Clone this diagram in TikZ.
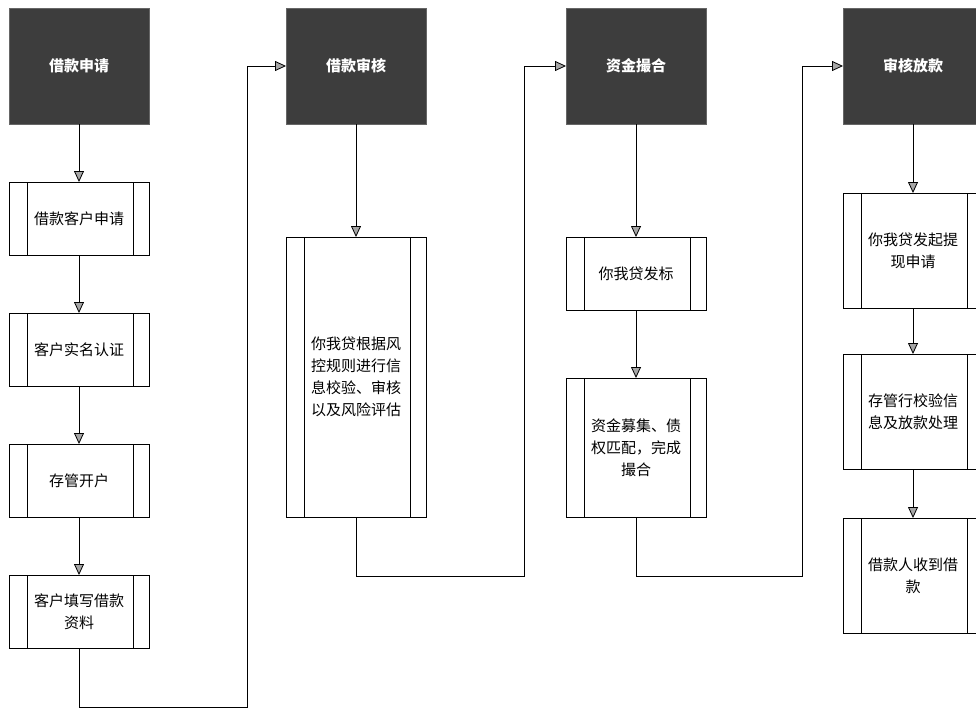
\documentclass[tikz,border=0pt]{standalone}
\usepackage{fontspec}
\setmainfont{Noto Sans CJK SC}
\usetikzlibrary{positioning, arrows.meta}

\tikzset{
  head/.style={fill=black!76, draw=black!60, minimum width=140pt, minimum height=116pt,
    text=white, font={\fontsize{15pt}{18pt}\selectfont\bfseries}, outer sep=0pt},
  procbox/.style={draw, line width=0.9pt, fill=white, minimum width=140pt, minimum height=#1,
    align=center, outer sep=0pt, font={\fontsize{15pt}{22pt}\selectfont},
    path picture={
      \draw[line width=0.9pt] ([xshift=18pt]path picture bounding box.north west) -- ([xshift=18pt]path picture bounding box.south west);
      \draw[line width=0.9pt] ([xshift=-16pt]path picture bounding box.north east) -- ([xshift=-16pt]path picture bounding box.south east);
    }},
  procbox/.default=73pt,
  flow/.style={line width=0.8pt, -{Triangle[length=11pt, width=10pt, fill=gray!70]}}
}

\begin{document}
\begin{tikzpicture}[x=1pt, y=-1pt, node distance=58pt]
\useasboundingbox (0,0) rectangle (976,709);
\clip (0,0) rectangle (976,709);

  % First column
  \node[head] (h1) at (79,66) {借款申请};
  \node[procbox, below=of h1] (b11) {借款客户申请};
  \node[procbox, below=of b11] (b12) {客户实名认证};
  \node[procbox, below=of b12] (b13) {存管开户};
  \node[procbox, below=of b13] (b14) {客户填写借款\\资料};
\draw[flow] (h1) -- (b11);
\draw[flow] (b11) -- (b12);
\draw[flow] (b12) -- (b13);
\draw[flow] (b13) -- (b14);

  % Second column
  \node[head] (h2) at (356,66) {借款审核};
  \node[procbox=280pt, below=113pt of h2] (b21) {你我贷根据风\\控规则进行信\\息校验、审核\\以及风险评估};
\draw[flow] (h2) -- (b21);
\coordinate (t1) at (247,707);
\draw[flow] (b14) |- (t1) |- (h2);

  % Third column
  \node[head] (h3) at (636,66) {资金撮合};
  \node[procbox, below=113pt of h3] (b31) {你我贷发标};
  \node[procbox=139pt, below=68pt of b31] (b32) {资金募集、债\\权匹配，完成\\撮合};
\draw[flow] (h3) -- (b31);
\draw[flow] (b31) -- (b32);
\coordinate (t2) at (524,576);
\draw[flow] (b21) |- (t2) |- (h3);

  % Fourth column
  \node[head] (h4) at (913,66) {审核放款};
  \node[procbox=115pt, below=69pt of h4] (b41) {你我贷发起提\\现申请};
  \node[procbox=115pt, below=46pt of b41] (b42) {存管行校验信\\息及放款处理};
  \node[procbox=115pt, below=49pt of b42] (b43) {借款人收到借\\款};
\draw[flow] (h4) -- (b41);
\draw[flow] (b41) -- (b42);
\draw[flow] (b42) -- (b43);
\coordinate (t3) at (802,576);
\draw[flow] (b32) |- (t3) |- (h4);
\end{tikzpicture}
\end{document}
